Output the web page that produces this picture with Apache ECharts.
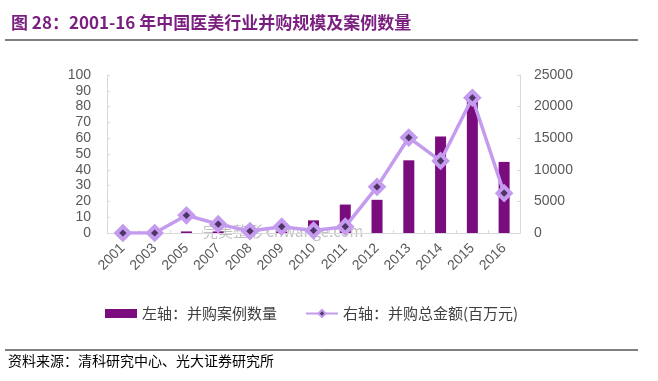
<!DOCTYPE html>
<html><head><meta charset="utf-8">
<script src="https://cdn.jsdelivr.net/npm/echarts@6/dist/echarts.min.js"></script>
<style>html,body{margin:0;padding:0;background:#fff}#c{width:658px;height:381px}</style>
</head><body><div id="c"></div>
<script>
const years = ['2001','2003','2005','2007','2008','2009','2010','2011','2012','2013','2014','2015','2016'];
const dealCount = [0, 0, 1, 1, 2, 1, 8, 18, 21, 46, 61, 85, 45];
const dealAmount = [0, 0, 2800, 1400, 300, 1000, 400, 1000, 7300, 15100, 11400, 21400, 6300];
const leftTicks = [0, 100, 10];
const rightTicks = [0, 25000, 5000];

const chart = echarts.init(document.getElementById('c'));
const lbl = {color:'#595959', fontSize:14, fontFamily:'Liberation Sans, Arial, sans-serif'};
chart.setOption({
  animation:false,
  title:{text:'图 28：2001-16 年中国医美行业并购规模及案例数量', left:6, top:9,
    textStyle:{color:'#7A1F7F', fontSize:17, fontWeight:'bold', fontFamily:'Noto Sans CJK SC, sans-serif'}},
  graphic:[
    {type:'line', shape:{x1:5,y1:40,x2:638,y2:40}, style:{stroke:'#000', lineWidth:1}},
    {type:'line', shape:{x1:5,y1:350,x2:638,y2:350}, style:{stroke:'#000', lineWidth:1}},
    {type:'text', left:8, top:354, style:{text:'资料来源：清科研究中心、光大证券研究所', fill:'#000', font:'14px "Noto Sans CJK SC", sans-serif'}},
    {type:'text', left:203, top:224, z:0, style:{text:'完美整形 cnwange.com', fill:'rgba(140,140,140,0.55)', font:'15px "Noto Sans CJK SC", sans-serif'}}
  ],
  grid:{left:107, right:138, top:75, bottom:148},
  legend:{left:100, top:301, itemGap:28, itemWidth:32, itemHeight:9,
    textStyle:{color:'#404040', fontSize:15, fontFamily:'Noto Sans CJK SC, sans-serif'},
    data:[{name:'左轴：并购案例数量', icon:'rect'},{name:'右轴：并购总金额(百万元)'}]},
  xAxis:{type:'category', data:years,
    axisLine:{lineStyle:{color:'#D9D9D9'}}, axisTick:{show:true, inside:true, length:3, lineStyle:{color:'#D9D9D9'}},
    axisLabel:Object.assign({rotate:45, margin:13, interval:0}, lbl)},
  yAxis:[
    {type:'value', min:leftTicks[0], max:leftTicks[1], interval:leftTicks[2],
      axisLine:{show:true, lineStyle:{color:'#D9D9D9'}}, axisTick:{show:true, inside:true, length:3, lineStyle:{color:'#D9D9D9'}}, splitLine:{show:false},
      axisLabel:Object.assign({margin:16}, lbl)},
    {type:'value', min:rightTicks[0], max:rightTicks[1], interval:rightTicks[2],
      axisLine:{show:true, lineStyle:{color:'#D9D9D9'}}, axisTick:{show:true, inside:true, length:3, lineStyle:{color:'#D9D9D9'}}, splitLine:{show:false},
      axisLabel:Object.assign({margin:14, formatter:v => String(v)}, lbl)}
  ],
  series:[
    {name:'左轴：并购案例数量', type:'bar', yAxisIndex:0, data:dealCount, barWidth:11,
      itemStyle:{color:'#7B0C7E'}},
    {name:'右轴：并购总金额(百万元)', type:'line', yAxisIndex:1, data:dealAmount,
      symbol:'diamond', symbolSize:13,
      lineStyle:{color:'#C49BEE', width:3.5},
      itemStyle:{color:'#4E3565', borderColor:'#C49BEE', borderWidth:4}}
  ]
});
</script></body></html>
